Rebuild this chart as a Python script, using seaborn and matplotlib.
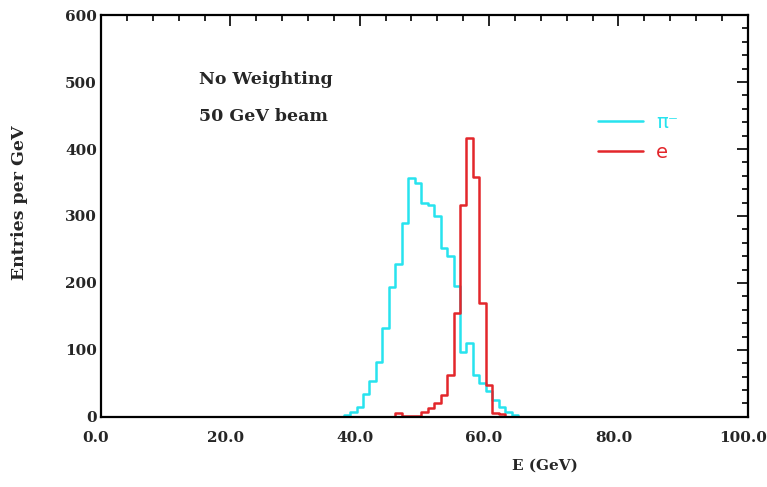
import numpy as np
import pandas as pd
import matplotlib
matplotlib.use("Agg")
import matplotlib.pyplot as plt
import matplotlib.transforms as mtransforms
from matplotlib.ticker import MultipleLocator, FormatStrFormatter
from matplotlib.lines import Line2D
import seaborn as sns

# ---- data (1 GeV bins) ----
pi_E = [37, 38, 39, 40, 41, 42, 43, 44, 45, 46, 47, 48, 49, 50, 51, 52, 53,
        54, 55, 56, 57, 58, 59, 60, 61, 62, 63, 64, 65]
pi_counts = [0, 3, 7, 15, 34, 53, 82, 133, 194, 228, 290, 356, 350, 320, 316,
             300, 252, 240, 196, 97, 110, 62, 50, 38, 25, 15, 8, 3, 0]

e_E = [45, 46, 47, 48, 49, 50, 51, 52, 53, 54, 55, 56, 57, 58, 59, 60, 61, 62, 63]
e_counts = [0, 6, 2, 2, 2, 8, 13, 20, 33, 62, 155, 316, 416, 358, 170, 48, 6, 4, 0]

labels = ["π⁻", "e"]
colors = ["#27e3ee", "#e3262b"]
x_ticks = [0, 20, 40, 60, 80, 100]
y_ticks = [0, 100, 200, 300, 400, 500, 600]
annotations = ["No Weighting", "50 GeV beam"]
xlabel = "E (GeV)"
ylabel = "Entries per GeV"

sns.set_style("white")
plt.rcParams["font.family"] = ["DejaVu Serif", "DejaVu Sans"]
plt.rcParams["font.weight"] = "bold"

fig = plt.figure(figsize=(7.67, 4.87), dpi=100)
ax = fig.add_axes([0.1317, 0.144, 0.975 - 0.1317, 0.969 - 0.144])

def edges_of(centers):
    c = np.asarray(centers, dtype=float)
    return [float(v) for v in np.append(c - 0.5, c[-1] + 0.5)]

df_pi = pd.DataFrame({"E": pi_E, "n": pi_counts})
df_e = pd.DataFrame({"E": e_E, "n": e_counts})

sns.histplot(data=df_pi, x="E", weights="n", bins=edges_of(pi_E), element="step",
             fill=False, color=colors[0], linewidth=1.8, ax=ax)
sns.histplot(data=df_e, x="E", weights="n", bins=edges_of(e_E), element="step",
             fill=False, color=colors[1], linewidth=1.8, ax=ax)

ax.set_xlim(0, 100)
ax.set_ylim(0, 600)
ax.set_xticks(x_ticks)
ax.set_yticks(y_ticks)
ax.xaxis.set_minor_locator(MultipleLocator(4))
ax.yaxis.set_minor_locator(MultipleLocator(20))
ax.xaxis.set_major_formatter(FormatStrFormatter("%.1f"))
ax.tick_params(which="both", direction="in", top=True, right=True,
               color="black", width=1.2)
ax.tick_params(which="major", length=8)
ax.tick_params(which="minor", length=4)
ax.tick_params(axis="x", which="major", pad=10, labelsize=11)
ax.tick_params(axis="y", which="major", pad=3, labelsize=11)

shift = mtransforms.ScaledTranslation(-5 / 100, 0, fig.dpi_scale_trans)
for lab in ax.get_xticklabels():
    lab.set_fontweight("bold")
    lab.set_transform(lab.get_transform() + shift)
for lab in ax.get_yticklabels():
    lab.set_fontweight("bold")

for s in ax.spines.values():
    s.set_visible(True)
    s.set_color("black")
    s.set_linewidth(1.6)

ax.set_xlabel(xlabel, fontsize=11, fontweight="bold")
ax.xaxis.set_label_coords(0.686, -0.105)
ax.set_ylabel(ylabel, fontsize=12.5, fontweight="bold")
ax.yaxis.set_label_coords(-0.113, 0.532)

ax.text(0.152, 0.84, annotations[0], transform=ax.transAxes, fontsize=12.5,
        fontweight="bold", ha="left", va="center")
ax.text(0.152, 0.748, annotations[1], transform=ax.transAxes, fontsize=12.5,
        fontweight="bold", ha="left", va="center")

handles = [Line2D([], [], color=colors[0], lw=1.8),
           Line2D([], [], color=colors[1], lw=1.8)]
leg = ax.legend(handles, labels, loc="upper left", bbox_to_anchor=(0.742, 0.8),
                frameon=False, handlelength=2.3, handletextpad=0.65,
                labelspacing=0.55,
                prop={"family": "DejaVu Sans", "size": 14, "weight": "normal"})
for t, c in zip(leg.get_texts(), colors):
    t.set_color(c)

fig.savefig("out.png", dpi=100)
